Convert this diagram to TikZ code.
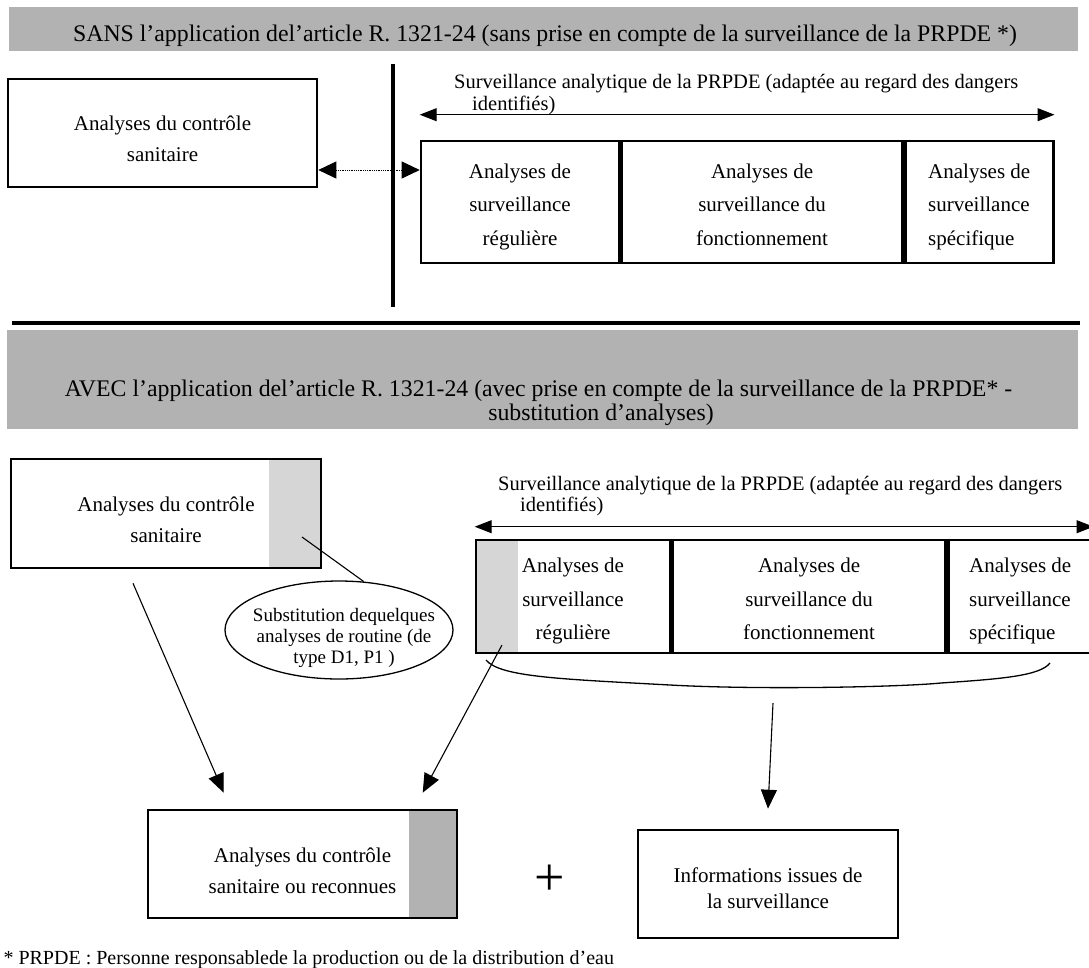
\documentclass[tikz,border=0pt]{standalone}
\usepackage{fontspec}
\setmainfont{Liberation Serif}
\usetikzlibrary{arrows.meta,shapes.geometric,positioning}

\definecolor{bandgray}{RGB}{178,178,178}
\definecolor{dotgray}{RGB}{214,214,214}

% hauteur de la premiere ligne d'un cadre
\newcommand{\haut}[1]{\rule{0pt}{#1}}

\tikzset{
  band/.style={fill=bandgray},
  titre/.style={anchor=base,font=\fontsize{23.8}{24}\selectfont},
  boxA/.style={draw,line width=2.6pt,align=center,inner sep=0pt,minimum width=309pt,minimum height=108pt,
    font=\fontsize{21}{31}\selectfont},
  cellA/.style={draw,line width=2.6pt,align=center,inner sep=0pt,font=\fontsize{21}{33.5}\selectfont},
  stripR/.style 2 args={path picture={\fill[#1] ([xshift=-#2]path picture bounding box.north east) rectangle (path picture bounding box.south east);}},
  stripL/.style 2 args={path picture={\fill[#1] (path picture bounding box.north west) rectangle ([xshift=#2]path picture bounding box.south west);}},
  survlab/.style={anchor=base west,inner sep=0pt,font=\fontsize{20.5}{22}\selectfont},
  tipA/.style={line width=1.1pt,-{Triangle[length=19pt,width=16pt]}},
  dblA/.style={line width=1pt,{Triangle[length=17pt,width=13pt]}-{Triangle[length=17pt,width=13pt]}},
  dotA/.style={line width=0.8pt,densely dotted,{Triangle[length=18pt,width=17pt]}-{Triangle[length=18pt,width=17pt]}}
}

\begin{document}
\begin{tikzpicture}[x=1pt,y=-1pt,font=\fontsize{20}{31}\selectfont]
\useasboundingbox (0,0) rectangle (1089,967);

% --- sans application
\fill[band] (9,7) rectangle (1078,51);
\node[titre] (titreA) at (545,41) {SANS l’application del’article R. 1321-24 (sans prise en compte de la surveillance de la PRPDE *)};

\draw[line width=4pt] (393,64) -- (393,307);
\draw[line width=4pt] (12,323) -- (1080,323);

\node[boxA] (ctrlA) at (162.5,133) {\haut{36pt}Analyses du contrôle\\sanitaire\strut};

\node[cellA,minimum width=198pt,minimum height=122pt] (regA) at (520,202) {\haut{30pt}Analyses de\\surveillance\\régulière\strut};
\node[cellA,minimum width=281pt,minimum height=122pt,anchor=west] (foncA) at (regA.east) {\haut{30pt}Analyses de\\surveillance du\\fonctionnement\strut};
\node[cellA,minimum width=148pt,minimum height=122pt,anchor=west,align=left] (specA) at (foncA.east) {\haut{30pt}Analyses de\\surveillance\\spécifique\strut};

\node[survlab] (survA1) at (454,88) {Surveillance analytique de la PRPDE (adaptée au regard des dangers};
\node[survlab] (survA2) at (472,110) {identifiés)};
\draw[dblA] ([yshift=25pt]regA.north west) -- ([yshift=25pt]specA.north east);

\draw[dotA] ([yshift=-37pt]ctrlA.east) -- ([yshift=32pt]regA.west);

% --- avec application
\fill[band] (7,330) rectangle (1078,429);
\node[titre] (titreB1) at (538.5,396) {AVEC l’application del’article R. 1321-24 (avec prise en compte de la surveillance de la PRPDE* -};
\node[titre] (titreB2) at (601,420) {substitution d’analyses)};

\node[boxA,minimum width=310pt,minimum height=109pt,stripR={dotgray}{52pt}] (ctrlB) at (166,513.5) {\haut{37pt}Analyses du contrôle\\sanitaire\strut};

\node[ellipse,draw,line width=1.3pt,minimum width=228pt,minimum height=98pt,inner sep=0pt] (subst) at (339,630) {};
\node[align=center,inner sep=0pt,font=\fontsize{19}{21}\selectfont] (substTxt) at (344,638) {Substitution dequelques\\analyses de routine (de\\type D1, P1 )};
\coordinate (ptB) at (302,537);
\draw[line width=1.1pt] (ptB) -- (subst.63);

\node[cellA,minimum width=194pt,minimum height=113pt,stripL={dotgray}{42pt}] (regB) at (573,596.5) {\haut{30pt}Analyses de\\surveillance\\régulière\strut};
\node[cellA,minimum width=273pt,minimum height=113pt,anchor=west] (foncB) at (regB.east) {\haut{30pt}Analyses de\\surveillance du\\fonctionnement\strut};
\node[cellA,minimum width=144pt,minimum height=113pt,anchor=west,align=left] (specB) at (foncB.east) {\haut{30pt}Analyses de\\surveillance\\spécifique\strut};

\node[survlab] (survB1) at (498,490) {Surveillance analytique de la PRPDE (adaptée au regard des dangers};
\node[survlab] (survB2) at (520,511) {identifiés)};
\draw[dblA] ([yshift=12pt]regB.north west) -- ([yshift=12pt]specB.north east);

% accolade
\coordinate (brL) at (486,660);
\coordinate (brR) at (1050,663);
\coordinate (brM) at (773,703);
\draw[line width=1.3pt] (brL) .. controls (500,677) and (560,679) .. (670,685) .. controls (760,690) and (900,687) .. (941,683) .. controls (1000,679) and (1040,676) .. (brR);

\node[boxA,stripR={bandgray}{48pt}] (resB) at (302.5,864) {\haut{38pt}Analyses du contrôle\\sanitaire ou reconnues\strut};
\node[boxA,minimum width=260pt,font=\fontsize{21}{26}\selectfont] (infoB) at (768,884) {\haut{31pt}Informations issues de\\la surveillance\strut};
\node[font=\fontsize{54}{54}\selectfont] (plus) at (550,880) {+};

\coordinate (ptC) at (502,645);
\draw[tipA] ([xshift=-33pt,yshift=-14pt]ctrlB.south) -- ([xshift=77pt,yshift=16pt]resB.north west);
\draw[tipA] (ptC) -- ([xshift=276pt,yshift=16pt]resB.north west);
\draw[tipA] (brM) -- ([yshift=20pt]infoB.north);

\node[anchor=base west] (note) at (0,964) {* PRPDE : Personne responsablede la production ou de la distribution d’eau};
\end{tikzpicture}
\end{document}
